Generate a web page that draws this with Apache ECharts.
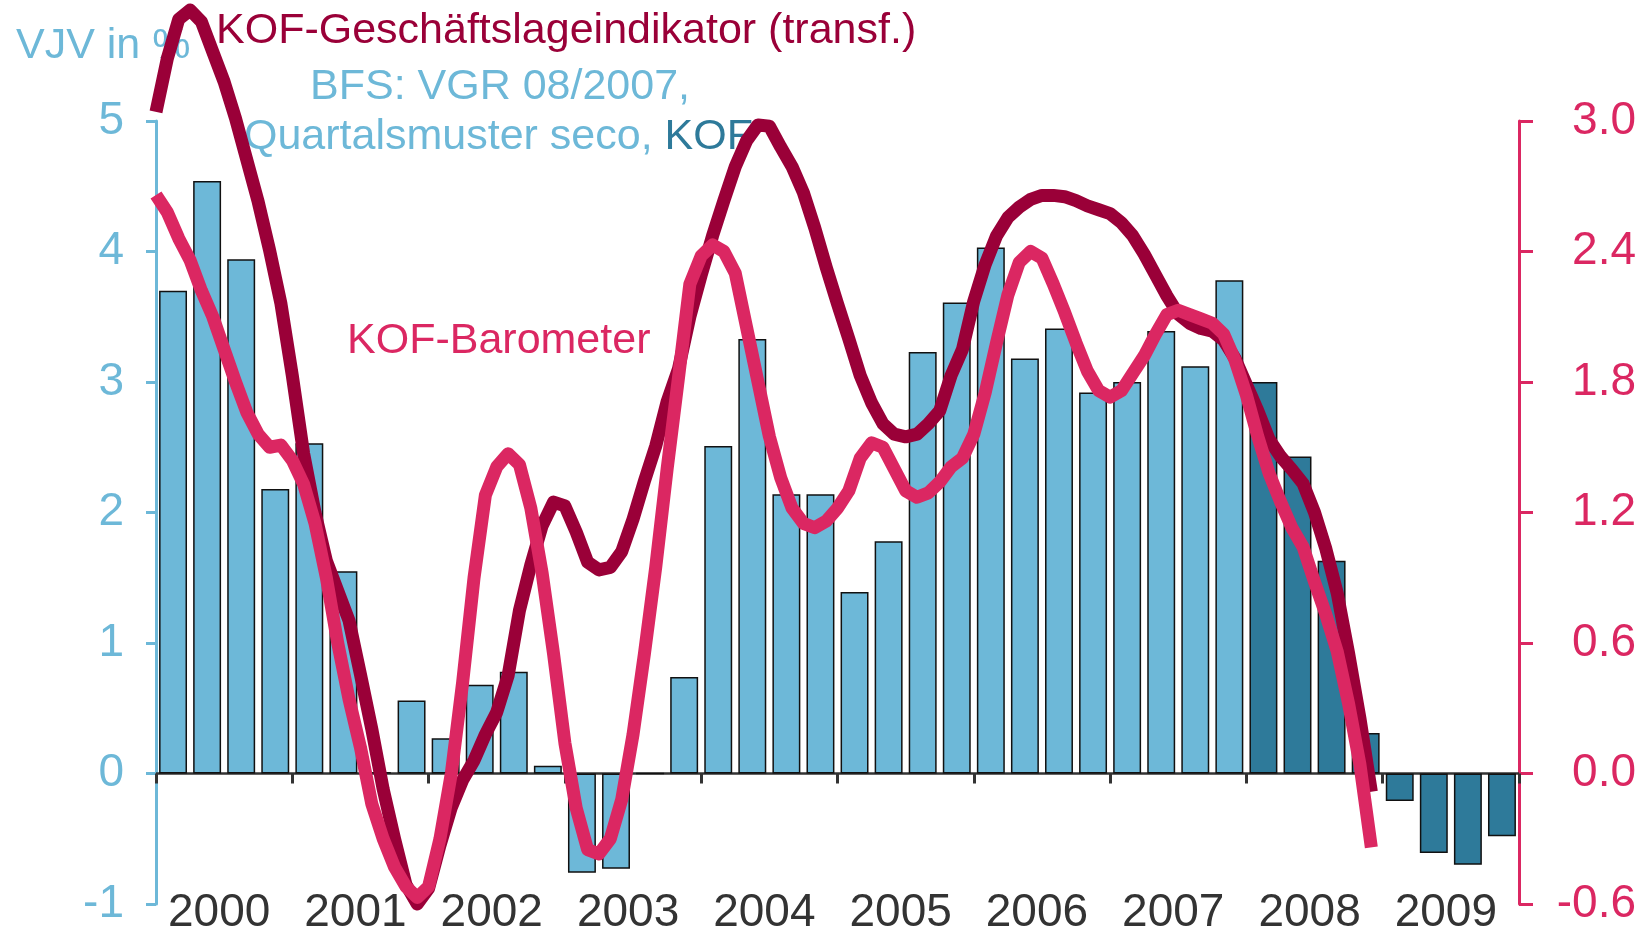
<!doctype html>
<html lang="de">
<head>
    <meta charset="UTF-8">
    <title>BIP Schweiz und KOF-Indikatoren</title>
    <script src="https://cdn.jsdelivr.net/npm/echarts@6/dist/echarts.min.js"></script>
    <style>
        html, body { margin: 0; padding: 0; background: #fff; }
        #main { width: 1650px; height: 936px; }
    </style>
</head>
<body>
<div id="main"></div>
<script type="text/javascript">

    // Jahre (Achsenbeschriftung)
    var years = ['2000', '2001', '2002', '2003', '2004', '2005', '2006', '2007', '2008', '2009'];

    // BIP, Veraenderung gegenueber Vorjahresquartal in % (BFS / seco, ab 2008 KOF-Prognose)
    var gdpBfs = [3.7, 4.54, 3.94, 2.18, 2.53, 1.55, 0.01, 0.56,
        0.27, 0.68, 0.78, 0.06, -0.76, -0.73, 0, 0.74,
        2.51, 3.33, 2.14, 2.14, 1.39, 1.78, 3.23, 3.61,
        4.03, 3.18, 3.41, 2.92, 3.0, 3.39, 3.12, 3.78];
    var gdpKof = [3.0, 2.43, 1.63, 0.31, -0.21, -0.61, -0.7, -0.48];

    // KOF-Geschaeftslageindikator (transf.), monatlich ab Jan 2000, Skala links
    var geschaeftslage = [
        5.07, 5.48, 5.78, 5.85, 5.76, 5.53, 5.30, 5.02, 4.70, 4.38, 4.01, 3.60,
        3.05, 2.45, 2.00, 1.63, 1.40, 1.17, 0.76, 0.34, -0.12, -0.50, -0.85, -1.00,
        -0.88, -0.55, -0.26, -0.05, 0.10, 0.30, 0.47, 0.75, 1.25, 1.60, 1.90, 2.08,
        2.05, 1.85, 1.62, 1.56, 1.58, 1.70, 1.95, 2.24, 2.51, 2.85, 3.10, 3.50,
        3.82, 4.12, 4.39, 4.65, 4.85, 4.97, 4.96, 4.80, 4.65, 4.45, 4.18, 3.88,
        3.60, 3.33, 3.05, 2.84, 2.68, 2.60, 2.58, 2.60, 2.68, 2.78, 3.05, 3.25,
        3.62, 3.90, 4.12, 4.26, 4.34, 4.40, 4.43, 4.43, 4.42, 4.39, 4.35, 4.32,
        4.29, 4.22, 4.12, 3.98, 3.82, 3.66, 3.52, 3.45, 3.41, 3.39, 3.32, 3.18,
        2.98, 2.78, 2.56, 2.43, 2.33, 2.22, 2.00, 1.72, 1.38, 0.92, 0.42, -0.14
    ];

    // KOF-Barometer, monatlich ab Jan 2000, Skala rechts
    var barometer = [
        2.66, 2.58, 2.46, 2.36, 2.22, 2.10, 1.95, 1.80, 1.66, 1.56, 1.50, 1.51,
        1.44, 1.33, 1.15, 0.90, 0.60, 0.34, 0.12, -0.14, -0.30, -0.43, -0.52, -0.57,
        -0.52, -0.30, 0.00, 0.42, 0.90, 1.28, 1.41, 1.47, 1.42, 1.22, 0.92, 0.55,
        0.14, -0.16, -0.35, -0.37, -0.30, -0.12, 0.18, 0.55, 0.95, 1.40, 1.82, 2.25,
        2.38, 2.43, 2.40, 2.30, 2.05, 1.80, 1.55, 1.36, 1.22, 1.15, 1.13, 1.16,
        1.22, 1.30, 1.45, 1.52, 1.50, 1.40, 1.30, 1.27, 1.29, 1.34, 1.41, 1.45,
        1.56, 1.75, 1.98, 2.20, 2.35, 2.40, 2.37, 2.25, 2.12, 1.98, 1.85, 1.76,
        1.73, 1.76, 1.84, 1.92, 2.02, 2.11, 2.13, 2.11, 2.09, 2.07, 2.02, 1.90,
        1.74, 1.55, 1.38, 1.25, 1.13, 1.04, 0.88, 0.73, 0.56, 0.32, 0.04, -0.34
    ];

    var hellblau = '#6db8d8';
    var dunkelblau = '#2e7a9a';
    var weinrot = '#9a0038';
    var pink = '#db2762';
    var schrift = 'Liberation Sans, Arial, sans-serif';

    var quarters = [];
    years.forEach(function (y) {
        for (var q = 1; q <= 4; q++) quarters.push(y + 'Q' + q);
    });

    var barData = gdpBfs.map(function (v) {
        return {value: v, itemStyle: {color: hellblau}};
    }).concat(gdpKof.map(function (v) {
        return {value: v, itemStyle: {color: dunkelblau}};
    }));

    var chart = echarts.init(document.getElementById('main'));

    option = {
        animation: false,
        backgroundColor: '#fff',
        grid: {left: 156, right: 131, top: 121, bottom: 31},
        xAxis: [
            {
                type: 'category',
                data: quarters,
                boundaryGap: true,
                axisLine: {onZero: true, onZeroAxisIndex: 0, lineStyle: {color: '#333', width: 2.5}},
                axisTick: {show: true, interval: 3, length: 10, lineStyle: {color: '#333', width: 3}},
                axisLabel: {show: false},
                splitLine: {show: false}
            },
            {
                type: 'category',
                data: years,
                position: 'bottom',
                boundaryGap: true,
                axisLine: {show: false},
                axisTick: {show: false},
                axisLabel: {
                    margin: -14, fontSize: 46, color: '#333', fontFamily: schrift, interval: 0,
                    padding: [0, 10, 0, 0]
                },
                splitLine: {show: false}
            },
            {
                type: 'value',
                min: 0,
                max: 120,
                show: false
            }
        ],
        yAxis: [
            {
                type: 'value',
                position: 'left',
                min: -1,
                max: 5,
                interval: 1,
                axisLine: {show: true, lineStyle: {color: hellblau, width: 3}},
                axisTick: {show: true, length: 10, lineStyle: {color: hellblau, width: 3}},
                axisLabel: {margin: 32, fontSize: 46, color: hellblau, fontFamily: schrift},
                splitLine: {show: false}
            },
            {
                type: 'value',
                position: 'right',
                min: -0.6,
                max: 3.0,
                interval: 0.6,
                axisLine: {show: true, lineStyle: {color: pink, width: 3}},
                axisTick: {show: true, length: 14, lineStyle: {color: pink, width: 3}},
                axisLabel: {
                    margin: 117, align: 'right', fontSize: 46, color: pink, fontFamily: schrift,
                    formatter: function (v) { return v.toFixed(1); }
                },
                splitLine: {show: false}
            }
        ],
        graphic: [
            {type: 'text', left: 16, top: 25, style: {text: 'VJV in %', fill: hellblau, font: '43px ' + schrift}},
            {type: 'text', left: 216, top: 10, z: 10,
                style: {text: 'KOF-Geschäftslageindikator (transf.)', fill: weinrot, font: '43px ' + schrift}},
            {type: 'text', left: 310, top: 66, style: {text: 'BFS: VGR 08/2007,', fill: hellblau, font: '43px ' + schrift}},
            {type: 'text', left: 244, top: 116, style: {
                text: '{a|Quartalsmuster seco, }{b|KOF}',
                rich: {
                    a: {fill: hellblau, font: '43px ' + schrift},
                    b: {fill: dunkelblau, font: '43px ' + schrift}
                }
            }},
            {type: 'text', left: 347, top: 320, style: {text: 'KOF-Barometer', fill: pink, font: '43px ' + schrift}}
        ],
        series: [
            {
                name: 'BIP',
                type: 'bar',
                xAxisIndex: 0,
                yAxisIndex: 0,
                data: barData,
                barCategoryGap: '18%',
                itemStyle: {borderColor: '#111', borderWidth: 1.5},
                z: 2
            },
            {
                name: 'KOF-Geschäftslageindikator (transf.)',
                type: 'line',
                xAxisIndex: 2,
                yAxisIndex: 0,
                data: geschaeftslage.map(function (v, i) { return [i, v]; }),
                showSymbol: false,
                clip: false,
                lineStyle: {color: weinrot, width: 13, cap: 'butt', join: 'round'},
                emphasis: {disabled: true},
                z: 3
            },
            {
                name: 'KOF-Barometer',
                type: 'line',
                xAxisIndex: 2,
                yAxisIndex: 1,
                data: barometer.map(function (v, i) { return [i, v]; }),
                showSymbol: false,
                clip: false,
                lineStyle: {color: pink, width: 13, cap: 'butt', join: 'round'},
                emphasis: {disabled: true},
                z: 4
            }
        ]
    };

    chart.setOption(option);

</script>
</body>
</html>
